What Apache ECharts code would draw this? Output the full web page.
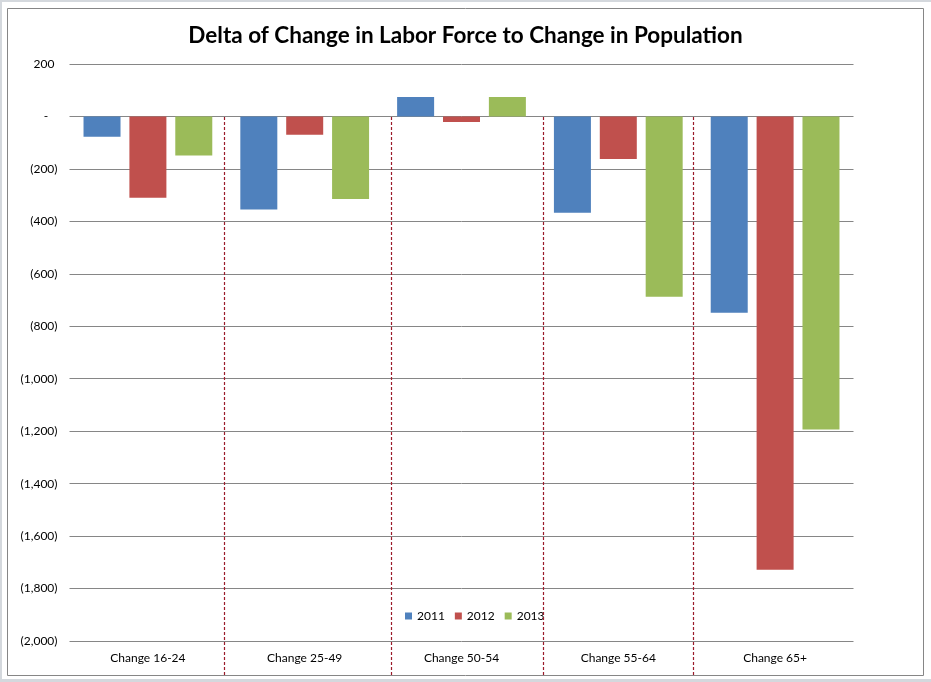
<!DOCTYPE html>
<html>
<head>
<meta charset="utf-8">
<script src="https://cdn.jsdelivr.net/npm/echarts@6/dist/echarts.min.js"></script>
<style>
html,body{margin:0;padding:0;background:#fff;}
#frame{position:absolute;left:0;top:0;width:931px;height:682px;box-sizing:border-box;border-top:2px solid #d4d8dd;border-left:2px solid #d4d8dd;border-bottom:3px solid #d4d8dd;}
#chart{position:absolute;left:0;top:0;width:931px;height:682px;}
</style>
</head>
<body>
<div id="frame"></div>
<div id="chart"></div>
<script>
const titleText = 'Delta of Change in Labor Force to Change in Population';
const categories = ['Change 16-24', 'Change 25-49', 'Change 50-54', 'Change 55-64', 'Change 65+'];
const seriesNames = ['2011', '2012', '2013'];
const values2011 = [-77, -355, 74, -367, -748];
const values2012 = [-310, -70, -21, -162, -1728];
const values2013 = [-149, -315, 74, -687, -1194];
const separatorPositions = [0.99, 2.05, 3.02, 3.98];
const yMin = -2000, yMax = 200, yStep = 200;

const colors = ['#4F81BD', '#C0504D', '#9BBB59'];
const font = 'Lato, "Open Sans", sans-serif';

function fmt(v) {
  if (v === 0) return '-   ';
  const s = Math.abs(v).toLocaleString('en-US');
  return v < 0 ? '(' + s + ')' : s + ' ';
}

const chart = echarts.init(document.getElementById('chart'));
const allValues = [values2011, values2012, values2013];
chart.setOption({
  animation: false,
  color: colors,
  title: {
    text: titleText,
    left: 'center',
    top: 19,
    textStyle: {fontFamily: font, fontSize: 22.5, fontWeight: 'bold', color: '#000'}
  },
  legend: {
    data: seriesNames,
    left: 400,
    top: 605,
    itemWidth: 7,
    itemHeight: 7,
    itemGap: 10,
    icon: 'rect',
    textStyle: {fontFamily: font, fontSize: 12, color: '#000'}
  },
  graphic: [{
    type: 'rect',
    shape: {x: 7.5, y: 8.5, width: 916, height: 667},
    style: {fill: 'none', stroke: '#868686', lineWidth: 1},
    silent: true,
    z: 0
  }],
  grid: [
    {left: 69.5, right: 77.5, top: 64, bottom: 41},
    {left: 69.5, right: 77.5, top: 116.5, bottom: 7}
  ],
  xAxis: [
    {
      type: 'category', data: categories, gridIndex: 0,
      axisLine: {show: false, onZero: false}, axisTick: {show: false},
      axisLabel: {fontFamily: font, fontSize: 12, color: '#000', margin: 11}
    },
    {
      type: 'value', gridIndex: 1, min: 0, max: 5, show: false
    }
  ],
  yAxis: [
    {
      type: 'value', gridIndex: 0, min: yMin, max: yMax, interval: yStep,
      axisLine: {show: false}, axisTick: {show: false},
      splitLine: {lineStyle: {color: '#868686', width: 1}},
      axisLabel: {fontFamily: font, fontSize: 12, color: '#000', margin: 12, formatter: fmt}
    },
    {type: 'value', gridIndex: 1, min: 0, max: 1, show: false}
  ],
  series: seriesNames.map((name, i) => ({
    name: name,
    type: 'bar',
    data: allValues[i],
    barWidth: 37,
    barGap: '24%',
    itemStyle: {color: colors[i]}
  })).concat([{
    type: 'scatter',
    xAxisIndex: 1, yAxisIndex: 1,
    data: [],
    silent: true,
    markLine: {
      silent: true,
      symbol: 'none',
      label: {show: false},
      lineStyle: {color: '#9B1B2A', width: 1.2, type: [3, 2]},
      data: separatorPositions.map(v => ({xAxis: v}))
    }
  }])
});
</script>
</body>
</html>
